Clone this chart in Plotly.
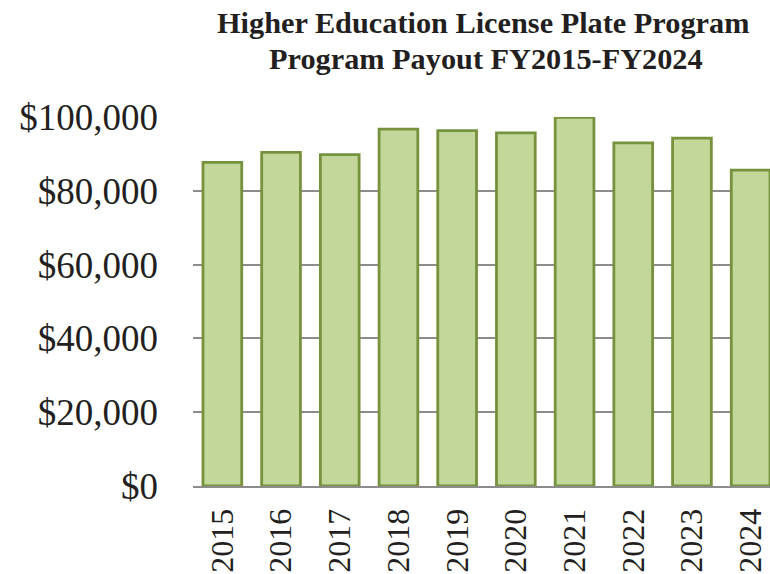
import plotly.graph_objects as go

years = ["2015", "2016", "2017", "2018", "2019", "2020", "2021", "2022", "2023", "2024"]
payout = [87700, 90400, 89800, 96700, 96300, 95700, 99900, 93000, 94300, 85600]
y_ticks = [0, 20000, 40000, 60000, 80000, 100000]
y_tick_labels = ["$0", "$20,000", "$40,000", "$60,000", "$80,000", "$100,000"]
title_line1 = "Higher Education License Plate Program"
title_line2 = "Program Payout FY2015-FY2024"

serif = "Liberation Serif, Times New Roman, serif"

W, H = 770, 574
L, R, T, B = 193, 0, 117, 574 - 486
pw, ph = W - L - R, H - T - B

fig = go.Figure()
fig.add_trace(go.Bar(
    x=years, y=payout,
    marker=dict(color="#c4d79b", line=dict(color="#76923c", width=2.8)),
    width=0.66,
))

fig.update_layout(
    width=W, height=H,
    margin=dict(l=L, r=R, t=T, b=B),
    plot_bgcolor="white", paper_bgcolor="white",
    showlegend=False,
    annotations=[
        dict(text="<b>" + title_line1 + "</b>", xref="paper", yref="paper",
             x=(483 - L) / pw, y=(H - B - 23) / ph, showarrow=False,
             xanchor="center", yanchor="middle",
             font=dict(family=serif, size=30.3, color="#231f20")),
        dict(text="<b>" + title_line2 + "</b>", xref="paper", yref="paper",
             x=(486 - L) / pw, y=(H - B - 59) / ph, showarrow=False,
             xanchor="center", yanchor="middle",
             font=dict(family=serif, size=30.3, color="#231f20")),
    ],
)

fig.update_xaxes(
    type="category",
    range=[-0.5, 9.5 - 10 / 58.7],
    tickangle=-90,
    tickfont=dict(family=serif, size=32, color="#231f20"),
    showgrid=False,
    showline=True, linecolor="#8c8c8c", linewidth=2,
    ticks="", ticklabelstandoff=8,
    automargin=False,
)
fig.update_yaxes(
    range=[0, 100000],
    tickvals=y_ticks, ticktext=y_tick_labels,
    tickfont=dict(family=serif, size=37, color="#231f20"),
    showgrid=True, gridcolor="#8c8c8c", gridwidth=2,
    zeroline=False, showline=False,
    ticks="", ticklabelstandoff=34,
    automargin=False,
)

# remove the default page margin so the figure fills the window exactly
fig.write_html("out.html", config={"displayModeBar": False},
               post_script="document.body.style.margin='0';")
